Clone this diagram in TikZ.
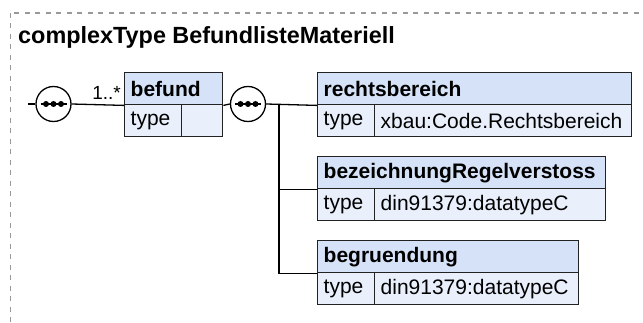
\documentclass[tikz,border=0pt]{standalone}
\usepackage{fontspec}
\setmainfont{Liberation Sans}
\definecolor{hdrfill}{HTML}{D5E2F8}
\definecolor{bodyfill}{HTML}{E9F0FC}
\definecolor{boxline}{HTML}{222222}
\definecolor{frameline}{HTML}{999999}
\tikzset{
  hdr/.style={draw=boxline, line width=1.4pt, fill=hdrfill, anchor=north west,
    minimum height=32, inner xsep=6, inner ysep=0, text width=#1, align=left,
    font=\bfseries\fontsize{21}{24}\selectfont},
  cell/.style={draw=boxline, line width=1.4pt, fill=bodyfill, anchor=north west,
    minimum height=32, inner xsep=6, inner ysep=0, text width=#1, align=left,
    font=\fontsize{21}{24}\selectfont},
  seq/.style={circle, draw=black, line width=1.3pt, fill=white, minimum size=35, inner sep=0},
  conn/.style={draw=black, line width=1.3pt},
}
\newcommand{\seqdots}[1]{%
  \draw[line width=1.3pt] ([xshift=-13]#1.center) -- ([xshift=13]#1.center);
  \foreach \dx in {-7.5,0,7.5} \fill ([xshift=\dx]#1.center) circle (3);
}
\begin{document}
\begin{tikzpicture}[x=1pt,y=-1pt]
\useasboundingbox (0,0) rectangle (643,323);
\clip (0,0) rectangle (643,323);
\fill[white] (0,0) rectangle (643,323);
\draw[frameline, line width=1.2pt, dash pattern=on 5pt off 5.5pt] (10.5,13) rectangle (670,350);
\node[anchor=base west, inner sep=0, font=\bfseries\fontsize{23.4}{26}\selectfont] (title) at (18,44) {complexType BefundlisteMateriell};

% befund element
\node[hdr=86] (befH) at (124,72) {befund};
\node[cell=45] (befT) at (124,104) {type};
\node[cell=29] (befV) at (181,104) {};

% rechtsbereich
\node[hdr=302] (recH) at (317,72) {rechtsbereich};
\node[cell=45] (recT) at (317,104) {type};
\node[cell=245] (recV) at (374,104) {xbau:Code.Rechtsbereich};

% bezeichnungRegelverstoss
\node[hdr=276] (bezH) at (317,156) {bezeichnungRegelverstoss};
\node[cell=45] (bezT) at (317,188) {type};
\node[cell=219] (bezV) at (374,188) {din91379:datatypeC};

% begruendung
\node[hdr=249] (begH) at (317,240) {begruendung};
\node[cell=45] (begT) at (317,272) {type};
\node[cell=192] (begV) at (374,272) {din91379:datatypeC};

% sequence compositors
\node[seq] (seqL) at (53.5,104) {};
\node[seq] (seqR) at (248,104) {};
\coordinate (start) at (28,104);
\coordinate (jn) at (279,104);

\draw[conn] (start) -- (seqL.west);
\draw[conn] (seqL.east) -- (befH.south west);
\draw[conn] (befH.south east) -- (seqR.west);
\draw[conn] (seqR.east) -- (recH.south west);
\draw[conn] (jn) |- (begH.south west);
\draw[conn] (jn |- bezH.south west) -- (bezH.south west);
\seqdots{seqL}
\seqdots{seqR}

\node[anchor=base east, inner sep=0, font=\fontsize{19}{22}\selectfont] (mult) at (121,100) {1..*};
\end{tikzpicture}
\end{document}
